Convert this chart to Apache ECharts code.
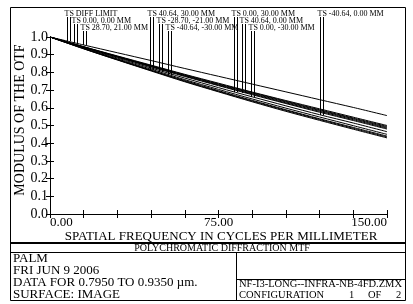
<!DOCTYPE html>
<html>
<head>
<meta charset="utf-8">
<style>
  html, body { margin: 0; padding: 0; background: #fff; }
  #chart { width: 413px; height: 304px; }
</style>
<script src="https://cdn.jsdelivr.net/npm/echarts@6/dist/echarts.min.js"></script>
</head>
<body>
<div id="chart"></div>
<script>
// spatial frequency sample points (cycles/mm)
const freq = [0, 15, 30, 45, 60, 75, 90, 105, 120, 135, 150];

// diffraction limited MTF (T and S coincide)
const diffLimit = [1.0, 0.955, 0.911, 0.867, 0.822, 0.778, 0.734, 0.690, 0.646, 0.602, 0.556];

// field curves (T and S for the 9 fields, overlapping pairs merged)
const curveA = [1.0, 0.945, 0.893, 0.841, 0.789, 0.739, 0.689, 0.641, 0.594, 0.547, 0.500];
const curveA2 = [1.0, 0.945, 0.891, 0.838, 0.786, 0.735, 0.686, 0.637, 0.589, 0.542, 0.495];
const curveB = [1.0, 0.944, 0.889, 0.836, 0.783, 0.732, 0.682, 0.633, 0.585, 0.538, 0.490];
const curveB2 = [1.0, 0.943, 0.887, 0.834, 0.780, 0.728, 0.678, 0.628, 0.580, 0.533, 0.485];
const curveC = [1.0, 0.942, 0.886, 0.831, 0.777, 0.725, 0.674, 0.624, 0.575, 0.528, 0.480];
const curveD = [1.0, 0.940, 0.881, 0.825, 0.768, 0.714, 0.662, 0.611, 0.561, 0.514, 0.465];
const curveE = [1.0, 0.937, 0.876, 0.818, 0.759, 0.704, 0.650, 0.598, 0.548, 0.499, 0.450];
const curveH = [1.0, 0.935, 0.873, 0.812, 0.754, 0.697, 0.642, 0.589, 0.538, 0.489, 0.440];
const curveF = [1.0, 0.934, 0.871, 0.811, 0.750, 0.693, 0.638, 0.585, 0.534, 0.484, 0.435];
const curveG = [1.0, 0.933, 0.870, 0.808, 0.747, 0.690, 0.634, 0.580, 0.529, 0.479, 0.430];

const fieldCurves = [curveA, curveA2, curveB, curveB2, curveC, curveD, curveE, curveH, curveF, curveG];

// legend leaders: label, frequency where the pair drops, value where it meets the curve, label row
const legendNames = [
  'TS DIFF LIMIT', 'TS 0.00, 0.00 MM', 'TS 28.70, 21.00 MM',
  'TS 40.64, 30.00 MM', 'TS -28.70, -21.00 MM', 'TS -40.64, -30.00 MM',
  'TS 0.00, 30.00 MM', 'TS 40.64, 0.00 MM', 'TS 0.00, -30.00 MM',
  'TS -40.64, 0.00 MM'
];
const legendFreq = [7.4, 10.8, 14.6, 44.5, 48.5, 52.5, 81.9, 85.5, 89.5, 120.2];
const legendValue = [0.977, 0.966, 0.955, 0.814, 0.802, 0.785, 0.689, 0.684, 0.661, 0.559];
const legendRow = [0, 1, 2, 0, 1, 2, 0, 1, 2, 0];

const xLabelsShown = [0, 75, 150];

const FONT = '"Liberation Serif", "DejaVu Serif", serif';

function pairs(values) {
  return freq.map((f, i) => [f, values[i]]);
}

const chart = echarts.init(document.getElementById('chart'), null, { renderer: 'canvas' });

const lineSeries = [diffLimit].concat(fieldCurves).map((vals) => ({
  type: 'line',
  data: pairs(vals),
  showSymbol: false,
  smooth: 0.3,
  silent: true,
  lineStyle: { color: '#000', width: 1 },
  z: 3
}));

const axisCommon = {
  type: 'value',
  axisLine: { show: true, lineStyle: { color: '#000', width: 1 } },
  axisTick: { show: true, inside: true, length: 4, lineStyle: { color: '#000' } },
  splitLine: { show: false }
};

const option = {
  animation: false,
  backgroundColor: '#fff',
  grid: { left: 50, right: 26, top: 37, bottom: 90, show: false },
  xAxis: [
    Object.assign({}, axisCommon, {
      min: 0, max: 150, interval: 15,
      position: 'bottom',
      axisLabel: {
        show: true,
        margin: 2,
        fontFamily: FONT, fontSize: 13, color: '#000',
        alignMinLabel: 'left', alignMaxLabel: 'right',
        formatter: (v) => xLabelsShown.includes(v) ? v.toFixed(2) : ''
      }
    }),
    Object.assign({}, axisCommon, {
      min: 0, max: 150, interval: 15,
      position: 'top',
      axisLabel: { show: false }
    })
  ],
  yAxis: [
    Object.assign({}, axisCommon, {
      min: 0, max: 1, interval: 0.1,
      position: 'left',
      axisLabel: {
        show: true, margin: 2,
        fontFamily: FONT, fontSize: 14, color: '#000',
        formatter: (v) => v.toFixed(1)
      }
    }),
    Object.assign({}, axisCommon, {
      min: 0, max: 1, interval: 0.1,
      position: 'right',
      axisLabel: { show: false }
    })
  ],
  series: lineSeries.concat([{
    type: 'custom',
    coordinateSystem: 'cartesian2d',
    clip: false,
    silent: true,
    z: 4,
    data: legendNames.map((n, i) => [legendFreq[i], legendValue[i], legendRow[i]]),
    encode: { x: 0, y: 1 },
    renderItem: function (params, api) {
      const p = api.coord([api.value(0), api.value(1)]);
      const top = api.coord([0, 1])[1];
      const yStart = top - 20 + api.value(2) * 7;
      const x1 = Math.round(p[0]) + 0.5;
      const x2 = x1 + 3;
      return {
        type: 'group',
        children: [
          { type: 'line', shape: { x1: x1, y1: yStart, x2: x1, y2: p[1] }, style: { stroke: '#000', lineWidth: 1 } },
          { type: 'line', shape: { x1: x2, y1: yStart, x2: x2, y2: p[1] }, style: { stroke: '#000', lineWidth: 1 } },
          {
            type: 'text',
            style: {
              x: x1 - 3, y: yStart + 0.5,
              text: legendNames[params.dataIndex],
              font: '8px ' + FONT,
              fill: '#000',
              align: 'left', verticalAlign: 'bottom'
            }
          }
        ]
      };
    }
  }]),
  graphic: [
    { type: 'rect', shape: { x: 10.5, y: 7.5, width: 395, height: 293 }, style: { fill: null, stroke: '#000', lineWidth: 1 }, silent: true },
    { type: 'line', shape: { x1: 10, y1: 243, x2: 405, y2: 243 }, style: { stroke: '#000', lineWidth: 2 }, silent: true },
    { type: 'line', shape: { x1: 10, y1: 252.5, x2: 405, y2: 252.5 }, style: { stroke: '#000', lineWidth: 1 }, silent: true },
    { type: 'line', shape: { x1: 236.5, y1: 252, x2: 236.5, y2: 300 }, style: { stroke: '#000', lineWidth: 1 }, silent: true },
    { type: 'line', shape: { x1: 236, y1: 279.5, x2: 405, y2: 279.5 }, style: { stroke: '#000', lineWidth: 1 }, silent: true },
    { type: 'text', x: 20, y: 120, rotation: Math.PI / 2, style: { x: 0, y: 0, text: 'MODULUS OF THE OTF', font: '14px ' + FONT, fill: '#000', align: 'center', verticalAlign: 'middle' }, silent: true },
    { type: 'text', style: { x: 221, y: 237, text: 'SPATIAL FREQUENCY IN CYCLES PER MILLIMETER', font: '13px ' + FONT, fill: '#000', align: 'center', verticalAlign: 'middle' }, silent: true },
    { type: 'text', style: { x: 222, y: 248, text: 'POLYCHROMATIC DIFFRACTION MTF', font: '10px ' + FONT, fill: '#000', align: 'center', verticalAlign: 'middle' }, silent: true },
    { type: 'text', style: { x: 13, y: 259, text: 'PALM', font: '13px ' + FONT, fill: '#000', verticalAlign: 'middle' }, silent: true },
    { type: 'text', style: { x: 13, y: 271, text: 'FRI JUN 9 2006', font: '13px ' + FONT, fill: '#000', verticalAlign: 'middle' }, silent: true },
    { type: 'text', style: { x: 13, y: 283, text: 'DATA FOR 0.7950 TO 0.9350 µm.', font: '13px ' + FONT, fill: '#000', verticalAlign: 'middle' }, silent: true },
    { type: 'text', style: { x: 13, y: 295, text: 'SURFACE: IMAGE', font: '13px ' + FONT, fill: '#000', verticalAlign: 'middle' }, silent: true },
    { type: 'text', style: { x: 239, y: 284, text: 'NF-I3-LONG--INFRA-NB-4FD.ZMX', font: '10.5px ' + FONT, fill: '#000', verticalAlign: 'middle' }, silent: true },
    { type: 'text', style: { x: 239, y: 295, text: 'CONFIGURATION', font: '10.5px ' + FONT, fill: '#000', verticalAlign: 'middle' }, silent: true },
    { type: 'text', style: { x: 349, y: 295, text: '1', font: '10.5px ' + FONT, fill: '#000', verticalAlign: 'middle' }, silent: true },
    { type: 'text', style: { x: 368, y: 295, text: 'OF', font: '10.5px ' + FONT, fill: '#000', verticalAlign: 'middle' }, silent: true },
    { type: 'text', style: { x: 396, y: 295, text: '2', font: '10.5px ' + FONT, fill: '#000', verticalAlign: 'middle' }, silent: true }
  ]
};

chart.setOption(option);
</script>
</body>
</html>
